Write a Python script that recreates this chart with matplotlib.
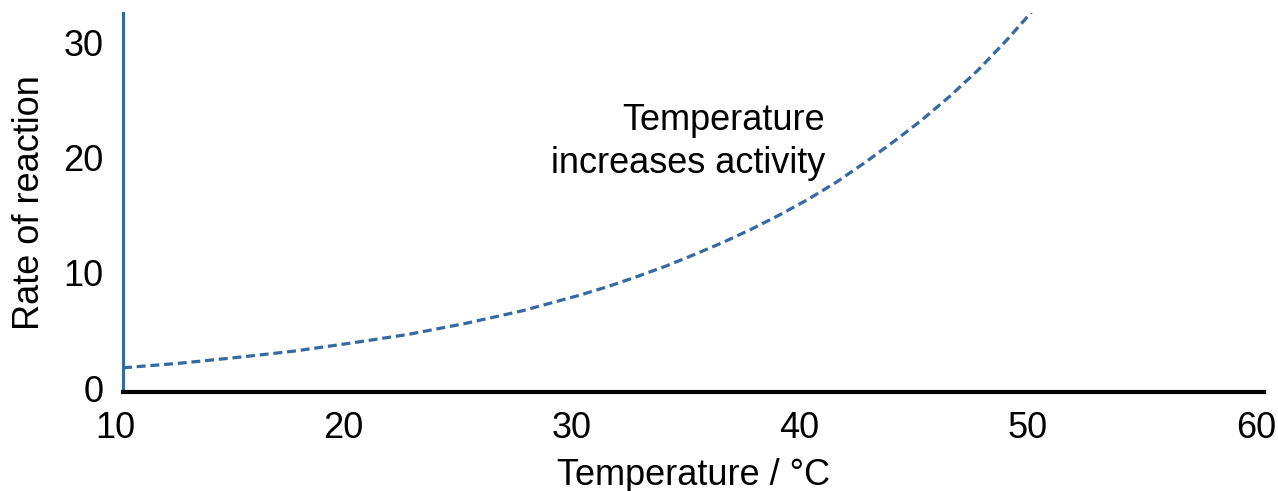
import matplotlib
matplotlib.use("Agg")
import matplotlib.pyplot as plt
from matplotlib.transforms import ScaledTranslation

# Data
temperature = [10, 12.5, 15, 17.5, 20, 22.5, 25, 27.5, 30, 31.25, 32.5, 33.75, 35, 36.25, 37.5,
               38.75, 40, 41.25, 42.5, 43.75, 45, 46.25, 47.5, 48.75, 50]
rate = [2.1, 2.5, 3.0, 3.55, 4.25, 5.0, 5.95, 7.05, 8.4, 9.15, 10.0, 10.9, 11.9, 12.95, 14.1,
        15.35, 16.7, 18.2, 19.9, 21.7, 23.6, 25.7, 28.0, 30.6, 33.4]
x_ticks = [10, 20, 30, 40, 50, 60]
y_ticks = [0, 10, 20, 30]
annotation = "Temperature\nincreases activity"

plt.rcParams['font.family'] = ['Liberation Sans', 'DejaVu Sans']

fig = plt.figure(figsize=(12.78, 4.91), dpi=100)
ax = fig.add_axes([123/1278, 1 - 392/491, (1264 - 123)/1278, (392 - 13)/491])

blue = '#3469a3'
ax.plot(temperature, rate, color=blue, lw=2.3, linestyle=(0, (2.8, 1.5)), clip_on=True)

ax.set_xlim(10, 60)
ax.set_ylim(0, 32.9)
ax.set_xticks(x_ticks)
ax.set_yticks(y_ticks)
ax.tick_params(axis='both', length=0, labelsize=26)
ax.tick_params(axis='x', pad=14)
ax.tick_params(axis='y', pad=14)

for lbl in ax.get_xticklabels():
    lbl.set_transform(lbl.get_transform() + ScaledTranslation(-8/100, 0, fig.dpi_scale_trans))
for lbl in ax.get_yticklabels():
    lbl.set_transform(lbl.get_transform() + ScaledTranslation(0, 4/100, fig.dpi_scale_trans))

for s in ['top', 'right']:
    ax.spines[s].set_visible(False)
ax.spines['left'].set_color(blue)
ax.spines['left'].set_linewidth(2.2)
ax.spines['bottom'].set_color('black')
ax.spines['bottom'].set_linewidth(3)
ax.spines['bottom'].set_zorder(5)

ax.set_xlabel("Temperature / °C", fontsize=26, labelpad=8)
ax.set_ylabel("Rate of reaction", fontsize=26, labelpad=12)

ax.text(40.76, 21.7, annotation, ha='right', va='center', fontsize=26, linespacing=1.32)

fig.savefig("out.png", dpi=100)
